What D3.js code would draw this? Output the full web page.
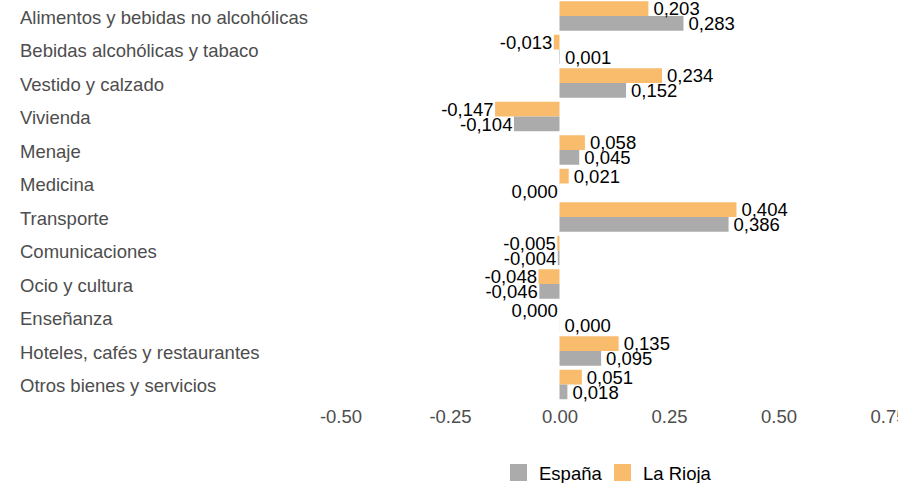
<!DOCTYPE html>
<html><head><meta charset="utf-8">
<script src="https://cdn.jsdelivr.net/npm/d3@7"></script>
<style>body{margin:0;background:#fff}svg{display:block}</style>
</head><body>
<script>
const categories = ["Alimentos y bebidas no alcohólicas","Bebidas alcohólicas y tabaco","Vestido y calzado","Vivienda","Menaje","Medicina","Transporte","Comunicaciones","Ocio y cultura","Enseñanza","Hoteles, cafés y restaurantes","Otros bienes y servicios"];
const espana = [0.283, 0.001, 0.152, -0.104, 0.045, -0.0002, 0.386, -0.004, -0.046, 0.0002, 0.095, 0.018];
const rioja  = [0.203, -0.013, 0.234, -0.147, 0.058, 0.021, 0.404, -0.005, -0.048, -0.0002, 0.135, 0.051];
const seriesNames = ["La Rioja","España"];
const tickValues = [-0.5,-0.25,0,0.25,0.5,0.75];
const colors = {"España":"#ABABAB","La Rioja":"#F9BB6C"};

const W=920,H=483;
const svg=d3.select("body").append("svg").attr("width",W).attr("height",H);
svg.append("defs").append("clipPath").attr("id","clip").append("rect").attr("x",0).attr("y",0).attr("width",898).attr("height",H);
const g=svg.append("g").attr("clip-path","url(#clip)");

const x=d3.scaleLinear().domain([-0.5,0.75]).range([340.5,888]);
const y=d3.scaleBand().domain(categories).range([-0.75,401.25]).paddingInner(0.12).paddingOuter(0.06);
const ys=d3.scaleBand().domain(seriesNames).range([0,y.bandwidth()]);
const loc=d3.formatLocale({decimal:",",thousands:".",grouping:[3],currency:["","€"],minus:"-"});
const locTick=d3.formatLocale({decimal:".",thousands:",",grouping:[3],currency:["$",""],minus:"-"});
const fmt=loc.format(".3f");
const font="'Liberation Sans', Arial, sans-serif";

const data=[];
categories.forEach((c,i)=>{
  data.push({cat:c,s:"La Rioja",v:rioja[i]});
  data.push({cat:c,s:"España",v:espana[i]});
});

g.selectAll("rect.bar").data(data).join("rect").attr("class","bar")
 .attr("x",d=>x(Math.min(0,d.v))).attr("width",d=>Math.abs(x(d.v)-x(0)))
 .attr("y",d=>y(d.cat)+ys(d.s)).attr("height",ys.bandwidth())
 .attr("fill",d=>colors[d.s]);

g.selectAll("text.val").data(data).join("text").attr("class","val")
 .attr("x",d=>d.v<0?x(d.v)-1.5:x(d.v)+5)
 .attr("y",d=>y(d.cat)+ys(d.s)+ys.bandwidth()/2)
 .attr("dy","0.36em")
 .attr("text-anchor",d=>d.v<0?"end":"start")
 .attr("font-family",font).attr("font-size","18.5px").attr("fill","#000")
 .text(d=>fmt(d.v));

g.selectAll("text.cat").data(categories).join("text").attr("class","cat")
 .attr("x",20).attr("y",d=>y(d)+y.bandwidth()/2+1)
 .attr("dy","0.36em")
 .attr("font-family",font).attr("font-size","18.5px").attr("fill","#4D4D4D")
 .text(d=>d);

const axis=d3.axisBottom(x).tickValues(tickValues).tickFormat(locTick.format(".2f")).tickSize(0).tickPadding(0);
const ax=g.append("g").attr("transform","translate(0,410)").call(axis);
ax.select(".domain").remove();
ax.selectAll("text").attr("font-family",font).attr("font-size","18.5px").attr("fill","#4D4D4D").attr("dy","0.71em").attr("y",0);

// legend
const legend=[{s:"España",x:510,tx:539},{s:"La Rioja",x:614,tx:643}];
const lg=svg.append("g");
lg.selectAll("rect").data(legend).join("rect").attr("x",d=>d.x).attr("y",464).attr("width",17).attr("height",17).attr("fill",d=>colors[d.s]);
lg.selectAll("text").data(legend).join("text").attr("x",d=>d.tx).attr("y",473).attr("dy","0.36em")
 .attr("font-family",font).attr("font-size","18.5px").attr("fill","#000").text(d=>d.s);
</script>
</body></html>
